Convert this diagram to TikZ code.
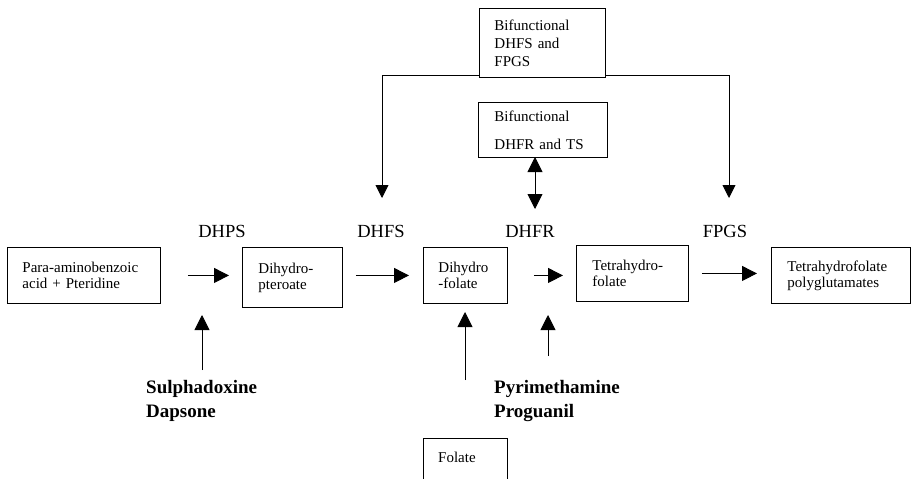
\documentclass[tikz,border=0pt]{standalone}
\usepackage{fontspec}
\setmainfont{Liberation Serif}
\usetikzlibrary{arrows.meta}
\tikzset{
  box/.style={draw, line width=0.9pt, rectangle, anchor=north west, inner xsep=15pt, inner ysep=0pt, align=left, font=\fontsize{15}{16}\selectfont},
  enz/.style={anchor=base, inner sep=0pt, font=\fontsize{18.5}{20}\selectfont},
  drug/.style={anchor=north west, inner sep=0pt, align=left, font=\fontsize{19}{24}\selectfont\bfseries},
  arr/.style={line width=0.9pt, -{Triangle[length=15pt,width=15pt]}},
  arrs/.style={line width=0.9pt, -{Triangle[length=13pt,width=13pt]}},
  darr/.style={line width=0.9pt, {Triangle[length=15pt,width=15pt]}-{Triangle[length=15pt,width=15pt]}}
}
\begin{document}
\begin{tikzpicture}[x=1pt,y=-1pt]
\useasboundingbox (0,0) rectangle (916,479);
\clip (0,0) rectangle (916,479);
% main row boxes
\node[box, minimum width=153pt, minimum height=56pt, text width=123pt] (b1) at (7,247) {Para-aminobenzoic\\acid + Pteridine};
\node[box, minimum width=98pt, minimum height=60pt, text width=68pt, inner xsep=16pt] (b2) at (242,247) {Dihydro-\\pteroate};
\node[box, minimum width=84pt, minimum height=56pt, text width=54pt] (b3) at (423,247) {Dihydro\\-folate};
\node[box, minimum width=112pt, minimum height=56pt, text width=80pt, inner xsep=16pt] (b4) at (576,245) {Tetrahydro-\\folate};
\node[box, minimum width=139pt, minimum height=56pt, text width=107pt, inner xsep=16pt] (b5) at (771,247) {Tetrahydrofolate\\polyglutamates};
% top boxes
\node[box, minimum width=126pt, minimum height=69pt, text width=96pt, font=\fontsize{15}{18}\selectfont] (t1) at (479,8) {Bifunctional\\DHFS and\\FPGS};
\node[box, minimum width=127pt, minimum height=55pt, text width=97pt, inner xsep=16pt, font=\fontsize{15}{28}\selectfont] (t2) at (478,102) {Bifunctional\\DHFR and TS};
% folate box (cut off at the bottom)
\node[box, minimum width=84pt, minimum height=70pt, text width=54pt] (fol) at (423,438) {};
\node[anchor=base west, inner sep=0pt, font=\fontsize{15}{16}\selectfont] (foltext) at (438,462) {Folate};
% enzyme labels
\node[enz] (dhps) at (222,237) {DHPS};
\node[enz] (dhfs) at (381,237) {DHFS};
\node[enz] (dhfr) at (530,237) {DHFR};
\node[enz] (fpgs) at (725,237) {FPGS};
% drug labels
\node[drug] (d1) at (146,380) {Sulphadoxine\\Dapsone};
\node[drug] (d2) at (494,380) {Pyrimethamine\\Proguanil};
% horizontal reaction arrows
\draw[arr] ([xshift=27pt]b1.east) -- ([xshift=-13pt]b2.west |- b1.east);
\draw[arr] ([xshift=13pt]b2.east |- b1.east) -- ([xshift=-14pt]b3.west |- b1.east);
\draw[arr] ([xshift=26pt]b3.east) -- ([xshift=-13pt]b4.west |- b3.east);
\draw[arr] ([xshift=13pt]b4.east) -- ([xshift=-14pt]b5.west |- b4.east);
% inhibitor / input arrows
\coordinate (s1a) at (202,370); \coordinate (s1b) at (202,315);
\coordinate (fa) at (465,380); \coordinate (fb) at (465,312);
\coordinate (p1a) at (548,356); \coordinate (p1b) at (548,315);
\draw[arr] (s1a) -- (s1b);
\draw[arr] (fa) -- (fb);
\draw[arr] (p1a) -- (p1b);
% branches from bifunctional DHFS/FPGS
\coordinate (lt) at (382,75); \coordinate (lb) at (382,198);
\coordinate (rt) at (729,75); \coordinate (rb) at (729,198);
\draw[arrs] (lt -| t1.west) -- (lt) -- (lb);
\draw[arrs] (rt -| t1.east) -- (rt) -- (rb);
% double arrow
\coordinate (da) at (535,157); \coordinate (db) at (535,209);
\draw[darr] (da) -- (db);
\end{tikzpicture}
\end{document}
